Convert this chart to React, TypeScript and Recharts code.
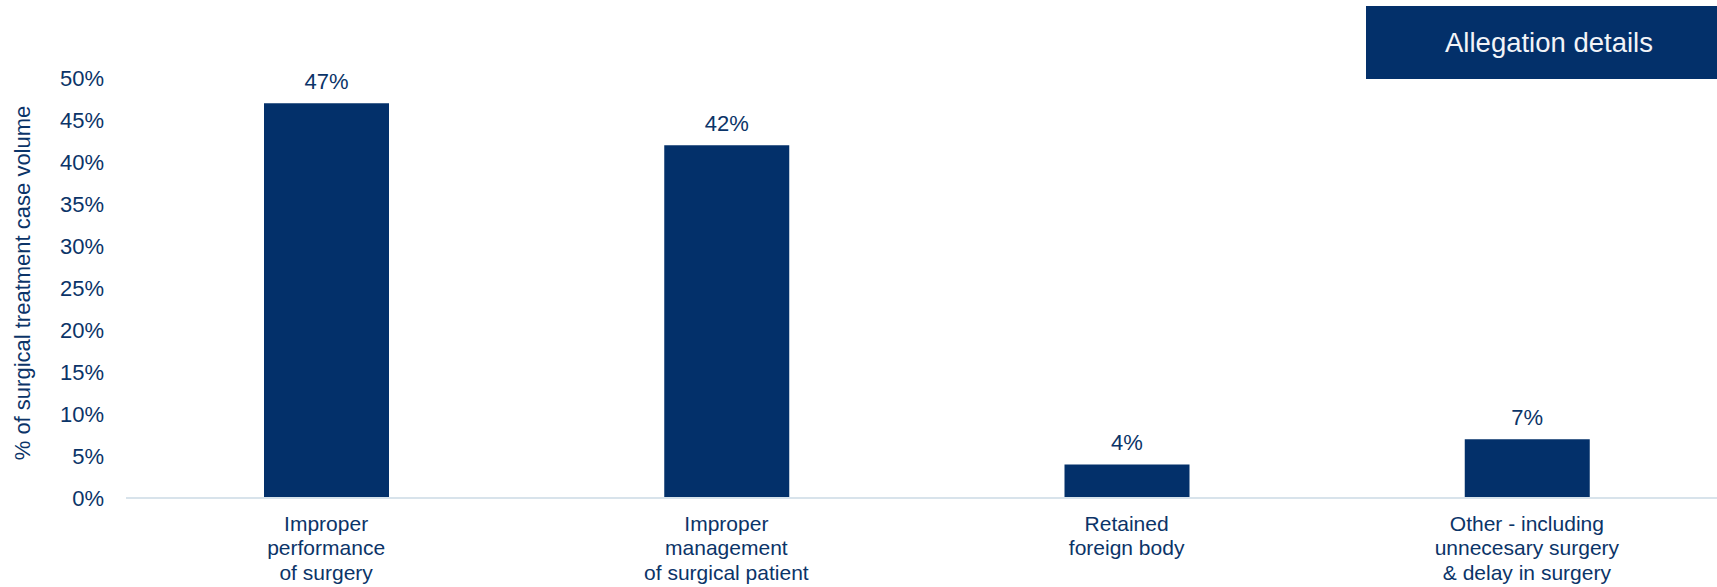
import { Bar, BarChart, LabelList, XAxis, YAxis } from "recharts";

const categories = [
  ["Improper", "performance", "of surgery"],
  ["Improper", "management", "of surgical patient"],
  ["Retained", "foreign body"],
  ["Other - including", "unnecesary surgery", "& delay in surgery"],
];
const shares = [47, 42, 4, 7];
const yTicks = [0, 5, 10, 15, 20, 25, 30, 35, 40, 45, 50];

const navy = "#03306A";
const textColor = "#0B3468";
const font = "'Liberation Sans', Arial, sans-serif";

const data = categories.map((lines, i) => ({ name: lines.join(" "), value: shares[i] }));

function CategoryTick(props: any) {
  const { x, y, index } = props;
  const lines = categories[index] || [];
  return (
    <text x={x} y={y} textAnchor="middle" fill={textColor} fontSize={21} fontFamily={font}>
      {lines.map((line, i) => (
        <tspan key={i} x={x} dy={i === 0 ? 24.5 : 24.5}>
          {line}
        </tspan>
      ))}
    </text>
  );
}

function AxisTitle(props: any) {
  const { viewBox } = props;
  const cx = 22;
  const cy = viewBox.y + viewBox.height / 2 - 5;
  return (
    <text
      x={cx}
      y={cy}
      transform={`rotate(-90, ${cx}, ${cy})`}
      textAnchor="middle"
      dominantBaseline="central"
      fill={textColor}
      fontSize={22}
      fontFamily={font}
    >
      % of surgical treatment case volume
    </text>
  );
}

export default function App() {
  return (
    <div style={{ position: "absolute", left: 0, top: 0, width: 1717, height: 587, overflow: "hidden", background: "#fff" }}>
      <BarChart
        width={1740}
        height={587}
        data={data}
        margin={{ top: 78, right: 13, left: 0, bottom: 0 }}
        style={{ fontFamily: font }}
      >
        <XAxis
          dataKey="name"
          height={89}
          interval={0}
          tickLine={false}
          axisLine={{ stroke: "#D8E3EB", strokeWidth: 2 }}
          tick={<CategoryTick />}
        />
        <YAxis
          width={126}
          domain={[0, 50]}
          ticks={yTicks}
          interval={0}
          tickLine={false}
          axisLine={false}
          tickMargin={16}
          tickFormatter={(v) => `${v}%`}
          tick={{ fill: textColor, fontSize: 22, fontFamily: font }}
          label={<AxisTitle />}
        />
        <Bar dataKey="value" fill={navy} barSize={125} isAnimationActive={false}>
          <LabelList
            dataKey="value"
            position="top"
            offset={14}
            formatter={(v: any) => `${v}%`}
            fill={textColor}
            fontSize={22}
            fontFamily={font}
          />
        </Bar>
      </BarChart>
      <div
        style={{
          position: "absolute",
          left: 1366,
          top: 6,
          width: 366,
          height: 73,
          background: navy,
          color: "#F2F4F8",
          fontFamily: font,
          fontSize: 27.5,
          display: "flex",
          alignItems: "center",
          justifyContent: "center",
        }}
      >
        Allegation details
      </div>
    </div>
  );
}
